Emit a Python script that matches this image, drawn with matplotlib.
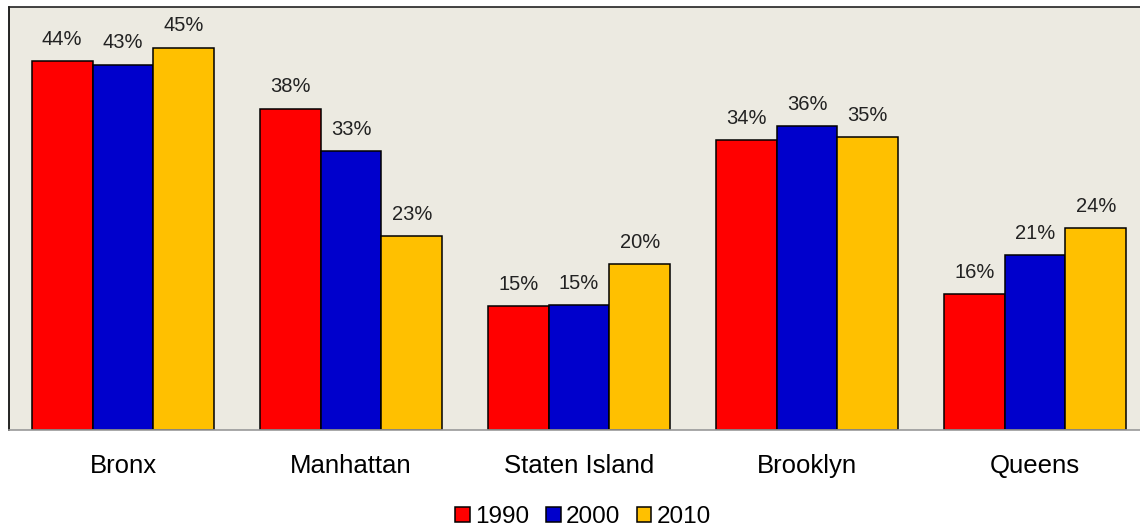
import matplotlib.pyplot as plt
import numpy as np

boroughs = ["Bronx", "Manhattan", "Staten Island", "Brooklyn", "Queens"]
years = ["1990", "2000", "2010"]
share_1990 = [43.6, 38.0, 14.6, 34.3, 16.1]
share_2000 = [43.2, 33.0, 14.8, 35.9, 20.7]
share_2010 = [45.2, 22.9, 19.6, 34.6, 23.9]
colors = ["#ff0000", "#0000cc", "#ffc000"]

plt.rcParams['font.family'] = ['Liberation Sans', 'DejaVu Sans']

fig = plt.figure(figsize=(11.4, 5.29), dpi=100)
ax = fig.add_axes([9 / 1140, 99 / 529, 1140 / 1140, 423 / 529])
ax.set_facecolor("#eceae1")

x = np.arange(len(boroughs))
w = 0.8 / 3
series = [share_1990, share_2000, share_2010]
for i, vals in enumerate(series):
    pos = x + (i - 1) * w
    ax.bar(pos, vals, width=w, color=colors[i], edgecolor="black",
           linewidth=1.1, label=years[i], zorder=2)
    for px, v in zip(pos, vals):
        ax.text(px, v + 1.45, "{:.0f}%".format(v), ha="center", va="bottom",
                fontsize=14.5, color="#222222")

ax.set_xlim(-0.5, 4.5)
ax.set_ylim(0, 50)
ax.set_yticks([])
ax.set_xticks(x)
ax.set_xticklabels(boroughs, fontsize=18.5)
ax.tick_params(axis="x", length=0, pad=17)

ax.spines["left"].set_color("black")
ax.spines["top"].set_color("#222222")
ax.spines["right"].set_visible(False)
ax.spines["bottom"].set_color("#999999")
for s in ["left", "top", "bottom"]:
    ax.spines[s].set_linewidth(1.2)

fig.legend(loc="center", bbox_to_anchor=(583 / 1140, 12 / 529), ncol=3,
           frameon=False, fontsize=17.5, handlelength=0.6, handleheight=0.6,
           handletextpad=0.2, columnspacing=0.7, borderpad=0)

fig.savefig("out.png", dpi=100)
